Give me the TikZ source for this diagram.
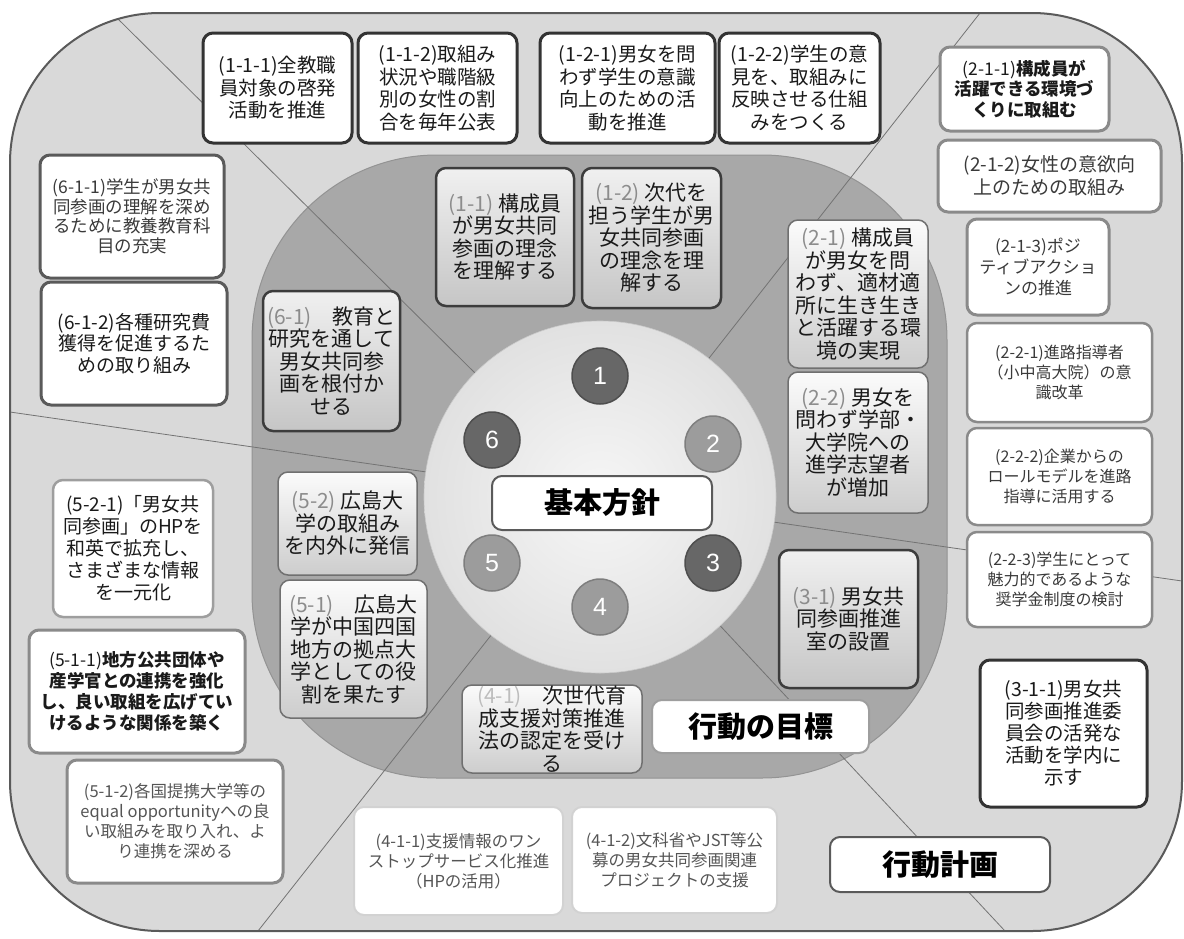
\documentclass[tikz,border=0pt]{standalone}
\usepackage{fontspec}
\newfontfamily\jp{Noto Sans CJK JP}
\newfontfamily\numfont{Liberation Sans}
\usetikzlibrary{calc}
\definecolor{outerfill}{HTML}{D9D9D9}
\definecolor{outerline}{HTML}{5A5A5A}
\definecolor{midfill}{HTML}{A8A8A8}
\definecolor{midline}{HTML}{939393}
\definecolor{divline}{HTML}{737373}
\definecolor{pfx}{HTML}{8C8C8C}
\definecolor{pfxl}{HTML}{BDBDBD}
\definecolor{darknum}{HTML}{676767}
\definecolor{darknumline}{HTML}{4E4E4E}
\definecolor{lightnum}{HTML}{9C9C9C}
\definecolor{lightnumline}{HTML}{7E7E7E}
\definecolor{corein}{HTML}{F6F6F6}
\definecolor{coreout}{HTML}{E1E1E1}
\definecolor{gAtop}{HTML}{F0F0F0}
\definecolor{gAbot}{HTML}{B4B4B4}
\definecolor{gBtop}{HTML}{FBFBFB}
\definecolor{gBbot}{HTML}{CDCDCD}
\definecolor{gAline}{HTML}{3C3C3C}
\definecolor{gBline}{HTML}{707070}
\definecolor{txt}{HTML}{1A1A1A}
\definecolor{txtg}{HTML}{3A3A3A}
\definecolor{txtl}{HTML}{555555}
\definecolor{bdark}{HTML}{333333}
\definecolor{bmid}{HTML}{5A5A5A}
\definecolor{bgray}{HTML}{8A8A8A}
\definecolor{blight}{HTML}{9E9E9E}
\definecolor{bpale}{HTML}{D2D2D2}
\begin{document}
\begin{tikzpicture}[x=1pt,y=-1pt,
  fs/.style args={#1/#2}{font={\jp\fontsize{#1}{#2}\selectfont}},
  box/.style={rounded corners=10pt, align=center, inner sep=0pt},
  act/.style={box, fill=white, text=txt},
  goalA/.style={box, draw=gAline, line width=2.5pt, top color=gAtop, bottom color=gBbot!70!gAbot, text=txt, fs=21/22.5},
  goalB/.style={box, draw=gBline, line width=1.5pt, top color=gBtop, bottom color=gBbot, text=txt, fs=21/22.5},
  lbl/.style={box, fill=white, line width=2pt, text=black, font={\jp\bfseries\fontsize{29}{32}\selectfont}},
  num/.style={circle, minimum size=56pt, inner sep=0pt, text=white, font={\numfont\fontsize{25}{25}\selectfont}, line width=1.5pt},
  numdark/.style={num, fill=darknum, draw=darknumline},
  numlight/.style={num, fill=lightnum, draw=lightnumline},
  divider/.style={draw=divline, line width=0.8pt}
]
\useasboundingbox (0,0) rectangle (1184,938);
\fill[white] (0,0) rectangle (1184,938);
% outer and middle regions
\fill[outerfill, rounded corners=150pt] (10,13) rectangle (1182,931);
\draw[midline, fill=midfill, line width=1pt, rounded corners=185pt] (252,155) rectangle (947,778);
% dividers
\coordinate (ctr) at (600,497);
\coordinate (tTL) at (113,14);
\coordinate (tTR) at (980,13);
\coordinate (tL) at (10,412);
\coordinate (tR) at (1182,581);
\coordinate (tBL) at (258,931);
\coordinate (tBR) at (1005,931);
\begin{scope}
\clip[rounded corners=150pt] (10,13) rectangle (1182,931);
\foreach \t in {tTL,tTR,tL,tR,tBL,tBR}{
  \draw[divider] (ctr) -- ($(ctr)!1.4!(\t)$);
}
\end{scope}
\draw[outerline, line width=2pt, rounded corners=150pt] (10,13) rectangle (1182,931);
% core circle
\node[circle, minimum size=352pt, inner sep=0pt, inner color=corein, outer color=coreout, draw=coreout!90!black, line width=0.6pt] (core) at (ctr) {};
\node[numdark] (n1) at (600,376) {1};
\node[numlight] (n2) at (713,444) {2};
\node[numdark] (n3) at (713,563) {3};
\node[numlight] (n4) at (600,607) {4};
\node[numlight] (n5) at (492,563) {5};
\node[numdark] (n6) at (492,440) {6};
\node[lbl, draw=bmid, minimum width=220pt, minimum height=54pt] (basic) at (602,503) {基本方針};
% goals
\node[goalA, minimum width=138pt, minimum height=138pt] (g11) at (505,237) {\textcolor{pfx}{(1-1)} 構成員\\が男女共同\\参画の理念\\を理解する};
\node[goalA, minimum width=139pt, minimum height=140pt] (g12) at (651.5,238) {\textcolor{pfx}{(1-2)} 次代を\\担う学生が男\\女共同参画\\の理念を理\\解する};
\node[goalB, minimum width=140pt, minimum height=148pt] (g21) at (858,294) {\textcolor{pfx}{(2-1)} 構成員\\が男女を問\\わず、適材適\\所に生き生き\\と活躍する環\\境の実現};
\node[goalB, minimum width=140pt, minimum height=141pt] (g22) at (858,442.5) {\textcolor{pfx}{(2-2)} 男女を\\問わず学部・\\大学院への\\進学志望者\\が増加};
\node[goalA, minimum width=139pt, minimum height=138pt] (g31) at (848.5,619) {\textcolor{pfx}{(3-1)} 男女共\\同参画推進\\室の設置};
\node[goalB, minimum width=180pt, minimum height=88pt] (g41) at (552,729) {\textcolor{pfxl}{(4-1)}　次世代育\\成支援対策推進\\法の認定を受け\\る};
\node[goalB, minimum width=147pt, minimum height=138pt] (g51) at (353.5,649) {\textcolor{pfx}{(5-1)}　広島大\\学が中国四国\\地方の拠点大\\学としての役\\割を果たす};
\node[goalB, minimum width=139pt, minimum height=103pt] (g52) at (347.5,523.5) {\textcolor{pfx}{(5-2)} 広島大\\学の取組み\\を内外に発信};
\node[goalA, minimum width=137pt, minimum height=140pt] (g61) at (331.5,361) {\textcolor{pfx}{(6-1)}　教育と\\研究を通して\\男女共同参\\画を根付か\\せる};
% labels
\node[lbl, draw=blight, minimum width=217pt, minimum height=53pt] (goallbl) at (760.5,726.5) {行動の目標};
\node[lbl, draw=bmid, minimum width=220pt, minimum height=55pt] (planlbl) at (940,864.5) {行動計画};
% action plans
\node[act, draw=bdark, line width=3pt, minimum width=149pt, minimum height=110pt, fs=19.5/22.5] (a111) at (277.5,88) {(1-1-1)全教職\\員対象の啓発\\活動を推進};
\node[act, draw=bdark, line width=3pt, minimum width=159pt, minimum height=110pt, fs=19.5/22.5] (a112) at (437.5,88) {(1-1-2)取組み\\状況や職階級\\別の女性の割\\合を毎年公表};
\node[act, draw=bdark, line width=3pt, minimum width=175pt, minimum height=110pt, fs=19.5/22.5] (a121) at (627.5,88) {(1-2-1)男女を問\\わず学生の意識\\向上のための活\\動を推進};
\node[act, draw=bdark, line width=3pt, minimum width=161pt, minimum height=110pt, fs=19.5/22.5] (a122) at (799.5,88) {(1-2-2)学生の意\\見を、取組みに\\反映させる仕組\\みをつくる};
\node[act, draw=bgray, line width=3pt, minimum width=169pt, minimum height=84pt, fs=17.5/20.5] (a211) at (1024.5,89) {(2-1-1){\bfseries 構成員が}\\{\bfseries 活躍できる環境づ}\\{\bfseries くりに取組む}};
\node[act, draw=bgray, line width=3pt, minimum width=223pt, minimum height=72pt, fs=19/23, text=txtg] (a212) at (1049.5,176) {(2-1-2)女性の意欲向\\上のための取組み};
\node[act, draw=bgray, line width=3pt, minimum width=142pt, minimum height=96pt, fs=17/21, text=txtg] (a213) at (1038,267) {(2-1-3)ポジ\\ティブアクショ\\ンの推進};
\node[act, draw=bgray, line width=2.5pt, minimum width=185pt, minimum height=99pt, fs=16/20, text=txtg] (a221) at (1059.5,372.5) {(2-2-1)進路指導者\\（小中高大院）の意\\識改革};
\node[act, draw=bgray, line width=2.5pt, minimum width=185pt, minimum height=97pt, fs=16/20, text=txtg] (a222) at (1059.5,476.5) {(2-2-2)企業からの\\ロールモデルを進路\\指導に活用する};
\node[act, draw=bgray, line width=2.5pt, minimum width=185pt, minimum height=95pt, fs=16/20, text=txtg] (a223) at (1059.5,579.5) {(2-2-3)学生にとって\\魅力的であるような\\奨学金制度の検討};
\node[act, draw=bdark, line width=3pt, minimum width=167pt, minimum height=147pt, fs=19.5/22] (a311) at (1063.5,733.5) {(3-1-1)男女共\\同参画推進委\\員会の活発な\\活動を学内に\\示す};
\node[act, draw=bpale, line width=2pt, minimum width=209pt, minimum height=108pt, fs=16.5/20, text=txtl] (a411) at (458.5,861) {(4-1-1)支援情報のワン\\ストップサービス化推進\\（HPの活用）};
\node[act, draw=bpale, line width=2pt, minimum width=205pt, minimum height=106pt, fs=16.5/20, text=txtl] (a412) at (674.5,860) {(4-1-2)文科省やJST等公\\募の男女共同参画関連\\プロジェクトの支援};
\node[act, draw=bgray, line width=3pt, minimum width=216pt, minimum height=123pt, fs=17.5/21] (a511) at (137,691.5) {(5-1-1){\bfseries 地方公共団体や}\\{\bfseries 産学官との連携を強化}\\{\bfseries し、良い取組を広げてい}\\{\bfseries けるような関係を築く}};
\node[act, draw=bgray, line width=3pt, minimum width=216pt, minimum height=123pt, fs=16.5/20, text=txtl] (a512) at (175,821.5) {(5-1-2)各国提携大学等の\\equal opportunityへの良\\い取組みを取り入れ、よ\\り連携を深める};
\node[act, draw=blight, line width=2.5pt, minimum width=160pt, minimum height=137pt, fs=19/22] (a521) at (133,548.5) {(5-2-1)「男女共\\同参画」のHPを\\和英で拡充し、\\さまざまな情報\\を一元化};
\node[act, draw=bmid, line width=3pt, minimum width=184pt, minimum height=123pt, fs=17.5/19.5, text=txtg] (a611) at (132,216.5) {(6-1-1)学生が男女共\\同参画の理解を深め\\るために教養教育科\\目の充実};
\node[act, draw=bmid, line width=3pt, minimum width=186pt, minimum height=123pt, fs=19/21.5] (a612) at (134,343.5) {(6-1-2)各種研究費\\獲得を促進するた\\めの取り組み};
\end{tikzpicture}
\end{document}
